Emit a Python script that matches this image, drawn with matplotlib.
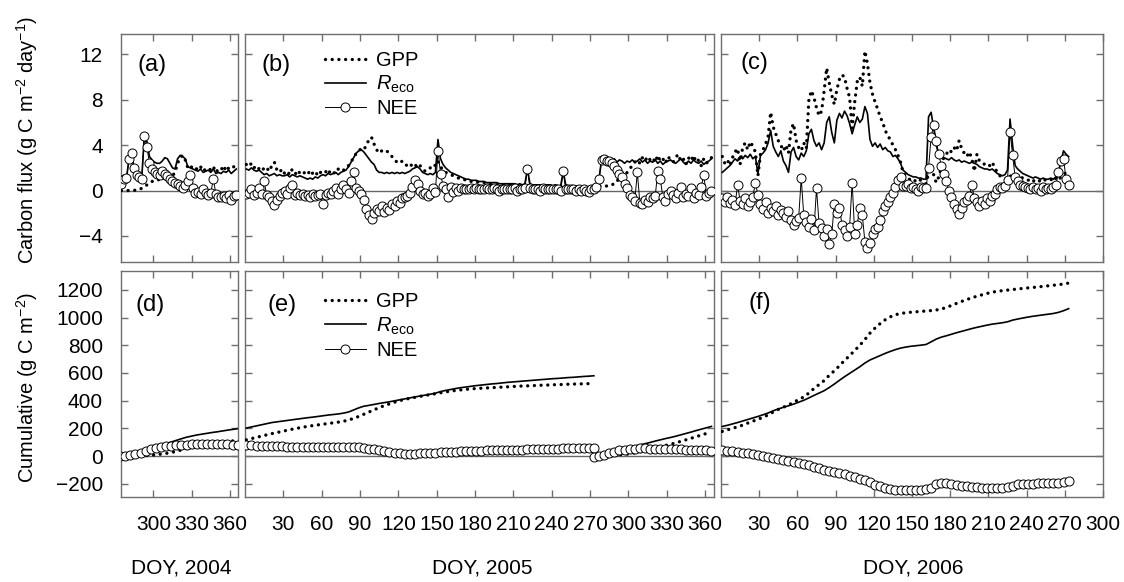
import numpy as np
import matplotlib
matplotlib.use('Agg')
import matplotlib.pyplot as plt
from matplotlib.lines import Line2D

plt.rcParams['font.family'] = ['Liberation Sans', 'DejaVu Sans']
plt.rcParams['mathtext.fontset'] = 'custom'
plt.rcParams['mathtext.rm'] = 'Liberation Sans'
plt.rcParams['mathtext.it'] = 'Liberation Sans:italic'
plt.rcParams['mathtext.bf'] = 'Liberation Sans:bold'

# ---------------- daily fluxes (every second day) ----------------
doy04 = np.arange(275, 367, 2)
gpp04 = [0.0,0.0,0.0,0.0,0.0,0.0,0.1,0.1,0.2,0.3,0.5,0.6,0.8,0.9,0.9,1.0,0.9,1.2,1.5,1.4,
         1.3,1.6,2.4,2.9,3.1,2.7,2.0,2.2,1.9,2.0,1.8,2.1,1.7,1.9,2.0,1.8,2.1,1.6,1.9,1.8,
         2.2,1.7,2.0,1.9,2.1,2.2]
reco04 = [0.6,1.0,1.1,2.8,3.2,2.0,1.5,1.3,1.2,4.9,4.3,3.0,2.7,2.5,2.4,2.4,2.6,2.9,2.8,2.4,
          2.0,1.9,2.8,3.1,3.0,2.8,2.1,2.0,1.9,1.8,1.7,1.9,1.6,1.7,1.8,1.6,1.9,1.5,1.6,1.5,
          1.7,1.6,1.8,1.5,1.7,1.9]
nee04 = [0.6,1.0,1.1,2.8,3.3,2.0,1.4,1.2,1.0,4.8,3.8,2.4,1.9,1.6,1.5,1.4,1.7,1.5,1.3,1.0,
         0.8,0.7,0.6,0.4,0.2,0.5,0.8,1.4,0.2,-0.2,-0.1,-0.3,0.1,-0.2,-0.4,-0.2,1.0,-0.3,-0.6,-0.6,
         -0.5,-0.7,-0.4,-0.8,-0.5,-0.4]

doy05 = np.arange(1, 366, 2)
gpp05 = [2.3,2.1,2.4,2.0,2.2,1.9,2.1,
         1.8,2.0,1.7,2.2,2.5,1.8,1.6,1.9,
         1.5,1.7,1.4,1.9,1.6,1.3,1.7,1.5,
         1.6,1.4,1.8,1.5,1.7,1.3,1.6,1.5,
         1.7,1.4,1.8,1.6,1.5,1.9,1.7,1.8,
         1.9,2.2,2.6,2.8,3.3,3.5,3.7,3.6,
         4.0,4.5,4.7,4.1,3.6,3.3,3.5,3.4,
         3.5,3.2,3.0,2.7,2.5,2.4,2.6,2.3,
         2.2,2.4,2.1,2.3,2.0,2.2,1.9,1.7,
         1.9,2.0,2.3,2.2,2.6,2.1,1.8,1.6,
         1.5,1.4,1.3,1.2,1.1,1.0,1.0,0.9,
         0.9,0.8,0.8,0.8,0.7,0.7,0.7,0.6,
         0.6,0.6,0.6,0.5,0.6,0.5,0.5,0.5,
         0.5,0.5,0.4,0.5,0.5,0.4,0.4,0.5,
         0.4,0.4,0.4,0.4,0.4,0.3,0.4,0.4,
         0.4,0.3,0.4,0.3,0.3,0.4,0.3,0.3,
         0.3,0.3,0.3,0.2,0.3,0.2,0.2,0.2,
         0.2,0.2,0.3,0.4,0.4,0.4,0.4,0.5,
         0.5,0.6,0.9,0.9,0.9,1.2,1.6,1.9,
         2.2,2.5,2.7,2.4,2.9,2.6,3.0,2.7,
         2.9,2.5,3.1,2.6,2.8,2.4,3.0,2.7,
         2.5,2.9,3.2,2.6,2.8,2.3,2.9,2.6,
         3.1,2.5,2.7,2.2,2.8,2.4,2.6,2.9]
reco05 = [1.9,1.8,2.0,1.8,1.7,1.8,1.6,
          1.4,1.5,1.3,1.4,1.5,1.3,1.4,1.3,
          1.3,1.4,1.2,1.4,1.3,1.2,1.3,1.2,
          1.1,1.0,1.1,1.0,1.2,1.1,1.3,1.4,
          1.3,1.5,1.4,1.5,1.6,1.4,1.6,1.7,
          1.8,2.1,2.5,2.9,3.3,3.5,3.6,3.4,
          3.1,2.8,2.5,2.3,1.8,1.6,1.6,1.5,
          1.6,1.5,1.6,1.5,1.6,1.5,1.6,1.5,
          1.6,1.7,1.9,2.0,2.1,1.9,1.6,1.5,
          1.4,1.5,1.4,1.6,4.5,2.8,2.3,2.0,
          1.8,1.6,1.5,1.4,1.3,1.2,1.1,1.0,
          1.0,0.9,0.9,0.9,0.8,0.8,0.8,0.7,
          0.7,0.7,0.7,0.7,0.6,0.6,0.6,0.6,
          0.6,0.6,0.6,0.5,0.6,0.5,0.6,1.9,
          0.6,0.5,0.5,0.5,0.5,0.5,0.5,0.5,
          0.5,0.4,0.5,0.4,0.4,1.7,0.5,0.4,
          0.4,0.4,0.4,0.4,0.3,0.3,0.3,0.3,
          0.3,0.3,0.5,1.0,2.7,2.8,2.7,2.7,
          2.6,2.8,2.5,2.7,2.6,2.4,2.6,2.5,
          2.7,2.5,2.6,2.8,2.5,2.7,2.4,2.6,
          2.5,2.7,2.4,2.6,2.3,2.5,2.6,2.7,
          2.5,2.4,2.6,2.8,2.5,2.3,2.6,2.4,
          2.7,2.5,2.4,2.6,2.3,2.5,2.6,2.8]
nee05 = [-0.3,-0.2,0.1,-0.4,-0.2,0.2,-0.3,
         0.8,-0.4,-0.6,-0.9,-1.3,-0.8,-0.5,-0.2,
         0.0,-0.3,0.2,0.5,-0.4,-0.2,-0.4,-0.3,
         -0.5,-0.4,-0.6,-0.3,-0.5,-0.4,-0.3,-1.2,
         -0.4,-0.2,-0.3,0.0,0.2,-0.3,0.1,0.5,
         0.1,-0.2,0.8,1.6,0.2,0.0,-0.3,-0.8,
         -1.6,-2.2,-2.5,-2.0,-1.6,-1.8,-1.4,-1.9,
         -1.5,-1.7,-1.2,-1.4,-0.9,-1.1,-0.7,-0.6,
         -0.5,-0.2,0.3,0.9,0.6,0.0,-0.3,-0.2,
         -0.5,-0.3,0.2,-0.1,3.5,1.5,0.4,0.1,
         -0.6,0.3,-0.1,0.2,0.0,0.2,0.1,0.1,
         0.1,0.2,0.1,0.2,0.1,0.1,0.1,0.2,
         0.1,0.1,0.2,0.1,0.0,0.1,0.1,0.1,
         0.1,0.1,0.2,0.0,0.1,0.1,0.2,1.9,
         0.2,0.1,0.1,0.1,0.0,0.2,0.1,0.1,
         0.1,0.1,0.1,0.1,0.0,1.7,0.1,0.1,
         0.1,0.1,0.0,0.1,0.0,0.1,0.0,-0.1,
         0.1,0.1,0.3,1.0,2.7,2.8,2.6,2.6,
         2.4,2.2,1.8,1.5,1.2,0.6,0.2,-0.4,
         -0.6,-0.9,1.6,-1.1,-1.2,-0.8,-1.0,-0.6,
         -0.7,-0.5,1.7,1.0,-0.6,-0.9,-0.3,0.0,
         -0.4,-0.7,-0.2,0.3,-0.6,-0.3,-0.5,0.2,
         -0.7,-0.2,-0.4,0.3,1.4,-0.5,-0.2,0.0]

doy06 = np.arange(1, 274, 2)
gpp06 = [3.0,2.4,2.7,2.2,2.9,3.4,3.7,2.3,
         3.8,4.2,3.6,4.3,3.9,3.4,1.3,3.2,
         3.6,4.1,4.8,6.9,5.6,5.0,4.4,4.0,
         3.5,4.0,3.3,5.4,5.9,4.4,3.8,3.5,
         4.2,3.7,8.0,8.8,8.2,7.3,6.6,7.0,
         8.8,10.8,9.5,8.4,7.6,8.9,9.8,10.2,
         10.0,9.0,8.2,5.5,7.8,9.6,10.0,9.2,
         12.3,11.2,9.5,8.5,7.8,7.2,6.5,6.0,
         5.3,4.8,4.5,4.0,3.6,3.1,2.5,1.6,
         1.3,1.1,0.9,1.0,0.8,1.0,0.9,0.7,
         0.6,1.5,1.8,1.4,0.7,1.2,2.0,3.0,
         3.2,3.6,3.4,3.8,3.5,4.4,3.7,3.3,
         3.0,3.4,2.8,1.7,3.2,2.6,2.5,2.3,
         2.4,2.2,2.5,2.0,1.6,1.3,1.2,1.0,
         1.0,1.3,1.2,1.1,1.0,1.2,1.1,1.0,
         0.9,1.0,0.8,1.0,0.9,0.8,1.0,0.9,
         0.9,1.0,0.8,1.1,0.9,1.2,1.4,1.6,
         2.0]
reco06 = [1.6,1.8,2.0,2.2,2.5,2.8,2.6,3.0,
          2.8,3.1,2.9,3.2,2.8,3.0,1.5,3.1,
          3.3,3.6,4.2,5.3,3.9,3.4,3.0,3.5,
          2.6,2.2,1.6,3.4,3.8,3.0,2.7,3.3,
          3.0,3.5,5.0,5.4,4.4,3.9,4.2,3.6,
          4.2,6.0,6.5,5.1,4.2,6.2,6.8,6.4,
          7.0,6.6,5.9,5.0,5.8,6.5,6.0,6.3,
          7.4,6.8,4.5,3.9,4.2,3.8,4.1,3.6,
          3.8,3.5,3.4,3.0,3.1,2.8,2.4,1.8,
          1.6,1.4,1.3,1.2,1.2,1.1,1.1,1.0,
          1.0,6.5,6.9,5.5,4.0,3.2,3.0,2.9,
          2.8,2.7,2.9,2.7,2.6,2.7,2.5,2.6,
          2.5,2.4,2.5,2.4,2.3,2.1,2.0,1.9,
          1.9,1.8,1.9,1.7,1.5,1.4,1.3,1.4,
          1.8,6.3,4.0,2.2,1.9,1.7,1.5,1.4,
          1.3,1.2,1.1,1.2,1.1,1.0,1.1,1.0,
          1.0,1.1,1.0,1.2,1.6,2.6,3.5,3.2,
          3.0]
nee06 = [-0.7,-1.0,-0.6,-1.1,-0.8,-1.3,0.5,-0.9,
         -1.2,-0.7,-1.4,-1.0,-0.6,0.7,-0.4,-1.2,
         -1.6,-1.0,-2.0,-1.5,-1.8,-1.4,-2.2,-1.7,
         -2.0,-2.3,-1.8,-2.6,-3.0,-2.7,-2.4,1.1,
         -2.2,-2.8,-3.2,-2.5,-3.5,0.2,-2.9,-3.3,
         -4.0,-3.4,-4.7,-3.8,-1.2,-2.0,-1.5,-3.0,
         -3.5,-4.0,-3.2,0.7,-3.8,-3.0,-1.5,-2.2,
         -4.5,-5.1,-4.6,-3.8,-3.4,-3.2,-2.6,-1.8,
         -1.4,-1.0,-0.6,-0.2,0.3,0.9,1.2,0.4,
         0.4,0.6,0.2,0.3,0.1,0.0,0.3,0.2,
         0.2,2.0,4.7,5.8,4.4,3.2,2.2,1.5,
         0.8,0.0,-0.6,-1.2,-1.6,-2.1,-1.5,-1.0,
         -0.8,-0.5,0.5,-0.7,-1.0,-1.4,-0.9,-1.2,
         -0.7,-0.9,-0.5,-0.3,0.1,0.3,0.2,0.4,
         0.9,5.2,3.1,1.2,0.8,0.5,0.4,0.3,
         0.2,0.1,0.3,0.1,0.2,0.0,0.3,0.1,
         0.2,0.1,0.3,0.5,1.6,2.6,2.8,1.0,
         0.5]

# ---------------- cumulative fluxes (every fourth day) ----------------
cdoy04 = np.arange(274, 367, 4)
cgpp04 = [0,0,0,0,1,2,5,9,14,19,25,34,44,54,60,67,73,79,85,91,97,103,109,115]
creco04 = [0,3,9,18,26,38,55,68,80,91,101,113,125,136,144,152,158,164,170,175,181,187,192,198]
cnee04 = [0,3,9,18,25,36,50,59,66,72,76,79,81,82,84,85,85,85,85,84,84,84,83,83]

cdoy05a = np.arange(1, 274, 4)
cgpp05a = [117,126,135,144,153,162,170,178, 186,194,201,208,214,220,225,230,
           235,240,245,251,260,272,286,302, 318,334,350,364,377,389,400,409,
           417,424,431,438,444,450,457,463, 469,474,478,482,485,488,490,492,
           494,496,498,500,502,504,506,507, 509,510,512,513,515,516,517,519,
           520,521,522,523,524]
creco05a = [202,210,218,226,234,242,247,252, 257,262,267,272,277,281,286,291,
            296,300,304,310,318,333,348,360, 366,373,380,386,392,399,406,413,
            420,427,434,440,447,454,466,474, 481,488,494,499,504,509,513,517,
            521,524,528,532,535,538,541,544, 547,550,553,556,559,561,564,567,
            569,572,575,577,580]
cnee05a = [78,77,76,75,74,72,71,70, 68,67,66,65,64,63,63,62,
           62,62,62,62,63,64,63,60, 54,48,42,36,30,25,21,18,
           17,18,19,20,20,21,26,28, 29,31,33,35,37,38,39,40,
           41,42,43,44,45,46,47,48, 49,50,51,52,52,53,55,55,
           56,56,56,56,56]

cdoy05b = np.arange(273, 366, 4)
cgpp05b = [0,1,2,4,6,9,12,16,22,30,39,48,58,67,76,85,95,106,117,128,140,151,163,174]
creco05b = [0,1,6,17,28,40,55,64,72,80,89,98,108,117,126,134,143,153,163,173,184,194,204,214]
cnee05b = [-5,-3,10,22,32,40,45,49,52,55,55,54,53,53,52,51,50,48,46,45,43,42,41,39]

cdoy06 = np.arange(1, 274, 4)
cgpp06 = [178,189,200,211,223,238,252,265, 280,297,318,337,353,369,388,408,
          427,455,488,516,545,583,616,652, 691,725,763,800,842,888,925,957,
          985,1006,1021,1030,1035,1039,1042,1045, 1048,1051,1055,1062,1074,1088,1103,1117,
          1131,1143,1155,1165,1175,1184,1190,1195, 1199,1203,1207,1211,1215,1218,1222,1226,
          1230,1234,1238,1243,1250]
creco06 = [214,222,232,242,253,264,275,286, 298,311,327,340,352,363,375,389,
           403,420,438,455,472,495,520,547, 573,597,621,645,672,694,710,726,
           742,756,769,780,787,793,797,801, 806,825,845,859,869,880,891,901,
           911,921,930,938,946,953,958,963, 970,982,990,997,1004,1010,1015,1020,
           1025,1030,1038,1050,1065]
cnee06 = [40,37,33,28,24,19,14,9, 3,-5,-13,-21,-28,-35,-43,-51,
          -58,-68,-80,-90,-100,-107,-115,-124, -133,-143,-153,-163,-172,-190,-207,-220,
          -231,-240,-245,-248,-247,-246,-244,-242, -240,-228,-205,-195,-195,-200,-206,-214,
          -219,-223,-227,-230,-232,-231,-230,-229, -225,-215,-205,-202,-200,-199,-198,-197,
          -196,-195,-192,-186,-181]

panel_labels = [['(a)', '(b)', '(c)'], ['(d)', '(e)', '(f)']]
year_labels = ['DOY, 2004', 'DOY, 2005', 'DOY, 2006']
series_labels = ['GPP', r'$R_{\rm eco}$', 'NEE']

# ---------------- styles ----------------
FRAME = '#6e6e6e'
GPP_KW = dict(color='black', lw=2.4, linestyle=(0, (0.01, 2.0)), dash_capstyle='round', zorder=3)
RECO_KW = dict(color='black', lw=1.2, zorder=3)
NEE_KW = dict(color='black', lw=0.7, marker='o', ms=6.5, mfc='white', mec='black', mew=0.7, zorder=4)

W, H = 1124, 582
cols = [(121, 117), (245, 469), (721, 382)]
rows = [(34, 228), (271, 226)]
xlims = [(274.7, 366.3), (0, 367), (0, 300)]
xticks = [[300, 330, 360], list(range(30, 361, 30)), list(range(30, 301, 30))]

fig = plt.figure(figsize=(W / 100, H / 100), dpi=100)
axes = [[None] * 3 for _ in range(2)]
for r, (top, h) in enumerate(rows):
    for c, (left, w) in enumerate(cols):
        ax = fig.add_axes([left / W, 1 - (top + h) / H, w / W, h / H])
        axes[r][c] = ax
        for s in ax.spines.values():
            s.set_color(FRAME)
            s.set_linewidth(1.0)
        ax.tick_params(direction='in', length=5, width=1, color=FRAME,
                       top=True, right=True, labelsize=15)
        ax.tick_params(axis='x', pad=13)
        ax.tick_params(axis='y', pad=13)
        ax.axhline(0, color='#666666', lw=1.0, zorder=1)
        ax.set_xlim(*xlims[c])
        ax.set_xticks(xticks[c])
        if r == 0:
            ax.set_ylim(-6.3, 13.8)
            ax.set_yticks([-4, 0, 4, 8, 12])
            ax.tick_params(labelbottom=False)
        else:
            ax.set_ylim(-296, 1337)
            ax.set_yticks(list(range(-200, 1201, 200)))
        if c > 0:
            ax.tick_params(labelleft=False)

# ---------------- top row ----------------
for ax, d, g, rc, n in [(axes[0][0], doy04, gpp04, reco04, nee04),
                        (axes[0][1], doy05, gpp05, reco05, nee05),
                        (axes[0][2], doy06, gpp06, reco06, nee06)]:
    ax.plot(d, g, **GPP_KW)
    ax.plot(d, rc, **RECO_KW)
    ax.plot(d, n, **NEE_KW)

# ---------------- bottom row ----------------
for ax, d, g, rc, n in [(axes[1][0], cdoy04, cgpp04, creco04, cnee04),
                        (axes[1][1], cdoy05a, cgpp05a, creco05a, cnee05a),
                        (axes[1][1], cdoy05b, cgpp05b, creco05b, cnee05b),
                        (axes[1][2], cdoy06, cgpp06, creco06, cnee06)]:
    ax.plot(d, g, **GPP_KW)
    ax.plot(d, rc, **RECO_KW)
    ax.plot(d, n, **NEE_KW)

# panel letters
lab_pos = [[(0.145, 0.865), (0.036, 0.865), (0.05, 0.875)],
           [(0.12, 0.85), (0.047, 0.85), (0.071, 0.86)]]
for r in range(2):
    for c in range(3):
        x, y = lab_pos[r][c]
        axes[r][c].text(x, y, panel_labels[r][c], transform=axes[r][c].transAxes,
                        fontsize=17, ha='left', va='center')

# legends
handles = [Line2D([], [], **GPP_KW), Line2D([], [], **RECO_KW), Line2D([], [], **NEE_KW)]
for ax, yy in [(axes[0][1], 0.925), (axes[1][1], 0.905)]:
    ax.legend(handles, series_labels, loc='upper left', bbox_to_anchor=(0.17, yy),
              frameon=False, fontsize=14.5, handlelength=2.05, handletextpad=0.5,
              labelspacing=0.2, borderaxespad=0, borderpad=0, numpoints=1)

# axis titles
fig.text(27 / W, 1 - 140 / H, r'Carbon flux (g C m$^{-2}$ day$^{-1}$)', rotation=90,
         ha='center', va='center', fontsize=14.5)
fig.text(27 / W, 1 - 388 / H, r'Cumulative (g C m$^{-2}$)', rotation=90,
         ha='center', va='center', fontsize=14.5)
for xc, t in zip([181, 482, 913], year_labels):
    fig.text(xc / W, 1 - 568 / H, t, ha='center', va='center', fontsize=15)

fig.savefig('out.png', dpi=100)
